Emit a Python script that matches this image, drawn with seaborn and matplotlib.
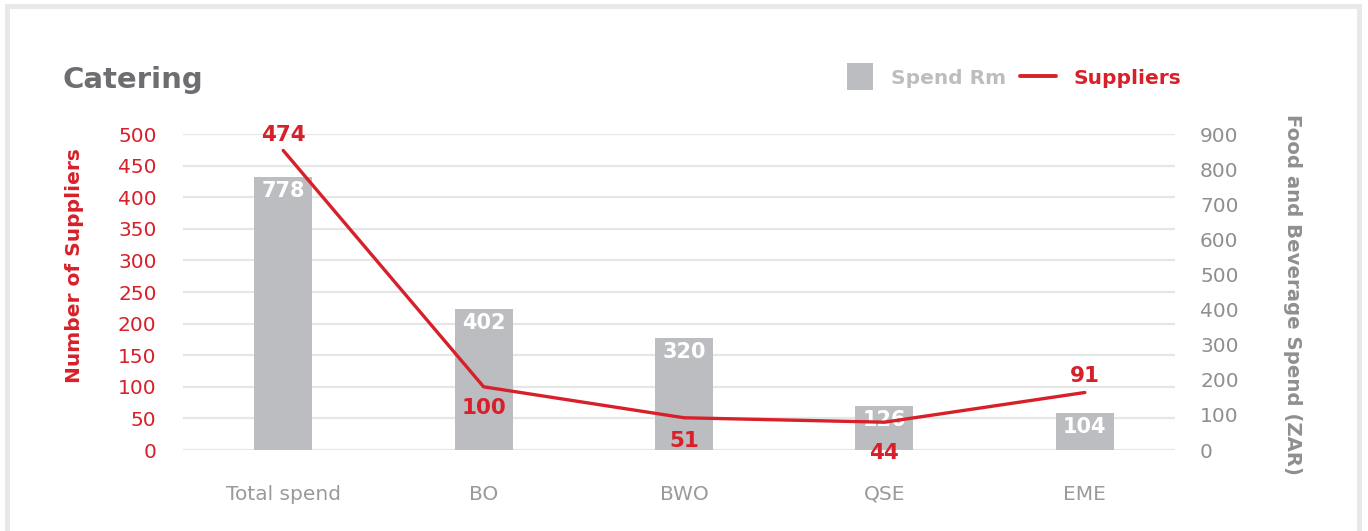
import matplotlib
matplotlib.use("Agg")
import matplotlib.pyplot as plt
import seaborn as sns
import numpy as np
import pandas as pd
from matplotlib.lines import Line2D
from matplotlib.patches import Rectangle, Patch
from matplotlib.legend_handler import HandlerPatch

# ---- data ----
categories = ["Total spend", "BO", "BWO", "QSE", "EME"]
spend_rm = [778, 402, 320, 126, 104]
suppliers = [474, 100, 51, 44, 91]
left_ticks = list(range(0, 501, 50))
right_ticks = list(range(0, 901, 100))

RED = "#d7202a"
BAR = "#bcbdc0"
GRID = "#e6e6e6"
TITLE_GREY = "#6d6e71"
AXIS_GREY = "#8f8f8f"

sns.set_theme(style="white")
plt.rcParams["font.family"] = ["DejaVu Sans"]

df = pd.DataFrame({"category": categories, "spend": spend_rm, "suppliers": suppliers})

fig = plt.figure(figsize=(13.68, 5.31), dpi=100)
ax = fig.add_axes([183/1368, 1-450/531, (1175-183)/1368, (450-134)/531])

# card border
fig.patches.append(Rectangle((7/1368, -0.05), (1359-7)/1368, 1.05-6/531, transform=fig.transFigure,
                             fill=False, edgecolor="#e8e8e8", linewidth=3.5, zorder=0))

# bars (spend) on ax
sns.barplot(data=df, x="category", y="spend", ax=ax, color=BAR, width=0.29, saturation=1,
            linewidth=0, zorder=2)
ax.set_ylim(0, 900)
ax.set_xlim(-0.5, 4.45)
ax.set_yticks(right_ticks)
ax.yaxis.remove_overlapping_locs = False
ax.set_yticks(np.linspace(0, 900, len(left_ticks)), minor=True)
ax.grid(False)
ax.grid(which="minor", axis="y", color=GRID, linewidth=1.6)
ax.set_axisbelow(True)
ax.tick_params(axis="x", length=0, pad=25, labelsize=14.5, labelcolor="#9a9a9a")
ax.set_xlabel("")
for s in ax.spines.values():
    s.set_visible(False)

# bar value labels
for p, v in zip(ax.patches, spend_rm):
    ax.annotate(f"{v}", (p.get_x() + p.get_width()/2, p.get_height()), xytext=(0, -10),
                textcoords="offset points", ha="center", va="center", color="white",
                fontsize=15, fontweight="bold", zorder=5)

# line (suppliers) on twin
ax2 = ax.twinx()
sns.lineplot(data=df, x="category", y="suppliers", ax=ax2, color=RED, linewidth=2.4, sort=False)
ax2.set_ylim(0, 500)
ax2.yaxis.tick_left()
ax2.yaxis.set_label_position("left")
ax2.set_yticks(left_ticks)
ax2.tick_params(axis="y", length=0, pad=19, labelsize=14.5, labelcolor=RED)
ax2.set_ylabel("Number of Suppliers", color=RED, fontsize=14.5, fontweight="bold")
ax2.yaxis.set_label_coords(84/1368, 0.5, transform=fig.transFigure)
ax2.set_xlabel("")
for s in ax2.spines.values():
    s.set_visible(False)
ax2.grid(False)

# right axis of the bars (set after twinx, which moves ticks left)
ax.yaxis.tick_right()
ax.yaxis.set_label_position("right")
ax.tick_params(axis="y", which="both", length=0)
ax.tick_params(axis="y", which="major", pad=18, labelsize=14.5, labelcolor=AXIS_GREY)
ax.set_ylabel("Food and Beverage Spend (ZAR)", rotation=-90, color=AXIS_GREY,
              fontsize=14.2, fontweight="bold")
ax.yaxis.set_label_coords(1302/1368, 1-294/531, transform=fig.transFigure)

label_offsets = [11, -15, -17, -22, 12]
for i, (v, off) in enumerate(zip(suppliers, label_offsets)):
    ax2.annotate(f"{v}", (i, v), xytext=(0, off), textcoords="offset points",
                 ha="center", va="center", color=RED, fontsize=15.5, fontweight="bold")

# title
fig.text(62/1368, 1-80/531, "Catering", fontsize=21, fontweight="bold", color=TITLE_GREY,
         ha="left", va="center")


# legend
def square_patch(legend, orig_handle, xdescent, ydescent, width, height, fontsize):
    sq = 19
    return Rectangle((-xdescent + width - sq, -ydescent + height / 2 - sq / 2), sq, sq)


handles = [Patch(facecolor=BAR, edgecolor="none"),
           Line2D([], [], color=RED, linewidth=2.8)]
leg = fig.legend(handles, ["Spend Rm", "Suppliers"], loc="center right",
                 bbox_to_anchor=(1199/1368, 1-78/531), ncol=2, frameon=False,
                 handlelength=1.8, handletextpad=0.85, columnspacing=0.7,
                 prop={"weight": "bold", "size": 14.5},
                 handler_map={Patch: HandlerPatch(patch_func=square_patch)})
leg.get_texts()[0].set_color("#bdbdbd")
leg.get_texts()[1].set_color(RED)

fig.savefig("out.png", dpi=100)
